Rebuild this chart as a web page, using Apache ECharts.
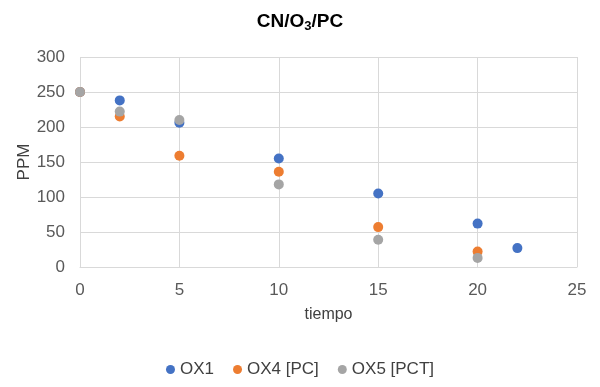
<!DOCTYPE html>
<html><head><meta charset="utf-8">
<script src="https://cdn.jsdelivr.net/npm/echarts@6/dist/echarts.min.js"></script>
<style>html,body{margin:0;padding:0;background:#fff}#c{width:600px;height:387px}</style>
</head><body><div id="c"></div>
<script>
var seriesNames = ['OX1', 'OX4 [PC]', 'OX5 [PCT]'];
var ox1X = [0, 2, 5, 10, 15, 20, 22];
var ox1Y = [250, 238, 206, 155, 105, 62, 27];
var ox4X = [0, 2, 5, 10, 15, 20];
var ox4Y = [250, 215, 159, 136, 57, 22];
var ox5X = [0, 2, 5, 10, 15, 20];
var ox5Y = [250, 222, 210, 118, 39, 13];
var colors = ['#4472C4', '#ED7D31', '#A5A5A5'];

function pairs(xs, ys) { return xs.map(function (x, i) { return [x, ys[i]]; }); }

var chart = echarts.init(document.getElementById('c'));
var font = 'Liberation Sans, Arial, sans-serif';
chart.setOption({
  animation: false,
  color: colors,
  title: {
    text: '{a|CN/O}{s|3}{a|/PC}',
    left: 'center', top: 5,
    textStyle: {
      rich: {
        a: { fontFamily: font, fontSize: 19, fontWeight: 'bold', color: '#000', lineHeight: 24, verticalAlign: 'middle' },
        s: { fontFamily: font, fontSize: 13, fontWeight: 'bold', color: '#000', lineHeight: 24, padding: [9, 0, 0, 0], verticalAlign: 'middle' }
      }
    }
  },
  grid: { left: 80, right: 23, top: 57, bottom: 120, containLabel: false },
  legend: {
    top: 356, left: 'center', icon: 'circle', itemWidth: 9, itemHeight: 9, itemGap: 19,
    textStyle: { fontFamily: font, fontSize: 17, color: '#404040' },
    data: seriesNames
  },
  xAxis: {
    type: 'value', min: 0, max: 25, interval: 5,
    name: 'tiempo', nameLocation: 'middle', nameGap: 40, nameMoveOverlap: false,
    nameTextStyle: { fontFamily: font, fontSize: 16, color: '#404040' },
    axisLine: { show: true, lineStyle: { color: '#d9d9d9' } },
    axisTick: { show: false },
    axisLabel: { fontFamily: font, fontSize: 17, color: '#595959', margin: 15 },
    splitLine: { show: true, lineStyle: { color: '#d9d9d9' } }
  },
  yAxis: {
    type: 'value', min: 0, max: 300, interval: 50,
    name: 'PPM', nameLocation: 'middle', nameGap: 47, nameMoveOverlap: false,
    nameTextStyle: { fontFamily: font, fontSize: 17, color: '#404040' },
    axisLine: { show: false },
    axisTick: { show: false },
    axisLabel: { fontFamily: font, fontSize: 17, color: '#595959', margin: 15 },
    splitLine: { show: true, lineStyle: { color: '#d9d9d9' } }
  },
  series: [
    { name: seriesNames[0], type: 'scatter', symbolSize: 10, itemStyle: { opacity: 1 }, data: pairs(ox1X, ox1Y), z: 2 },
    { name: seriesNames[1], type: 'scatter', symbolSize: 10, itemStyle: { opacity: 1 }, data: pairs(ox4X, ox4Y), z: 3 },
    { name: seriesNames[2], type: 'scatter', symbolSize: 10, itemStyle: { opacity: 1 }, data: pairs(ox5X, ox5Y), z: 4 }
  ]
});
</script></body></html>
